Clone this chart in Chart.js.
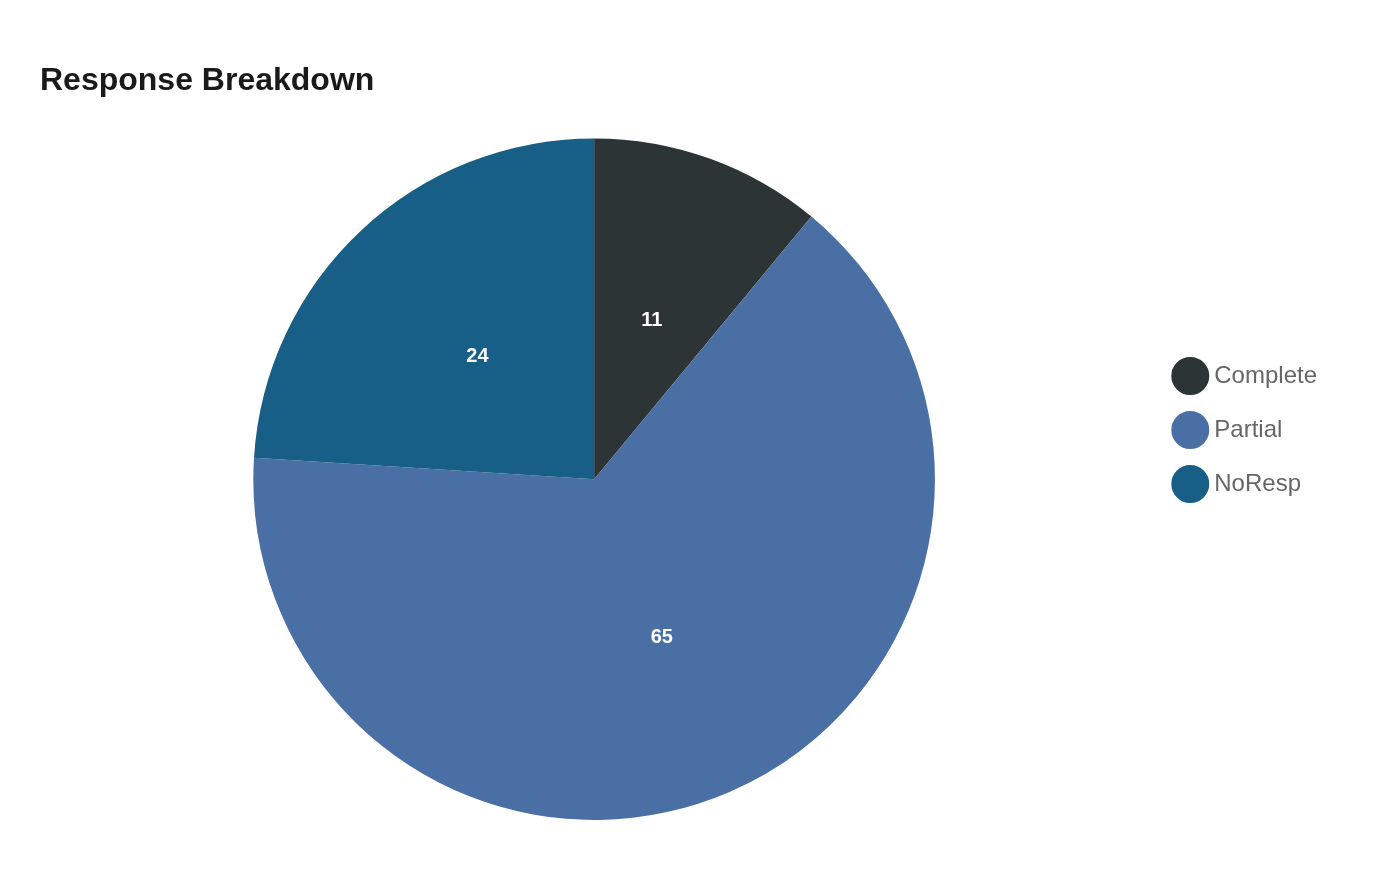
<!DOCTYPE html>
<html>
<head>
<meta charset="utf-8">
<title>Response Breakdown</title>
<script src="https://cdn.jsdelivr.net/npm/chart.js@4"></script>
<style>
    html, body { margin: 0; padding: 0; background: #fff; }
    #wrap { width: 1400px; height: 880px; position: relative; }
</style>
</head>
<body>
<div id="wrap"><canvas id="pieChart"></canvas></div>
<script>
const categories = ['Complete', 'Partial', 'NoResp'];
const values = [11, 65, 24];
const colors = ['#2d3436', '#4a6fa5', '#185f87'];

// white value labels in the middle of each slice
const sliceLabels = {
    id: 'sliceLabels',
    afterDatasetsDraw(chart) {
        const ctx = chart.ctx;
        const meta = chart.getDatasetMeta(0);
        ctx.save();
        ctx.fillStyle = '#ffffff';
        ctx.font = "bold 20px 'Liberation Sans', Arial, sans-serif";
        ctx.textAlign = 'center';
        ctx.textBaseline = 'middle';
        meta.data.forEach((arc, i) => {
            const pos = arc.tooltipPosition();
            ctx.fillText(String(values[i]), pos.x, pos.y + 2);
        });
        ctx.restore();
    },
};

const ctx = document.getElementById('pieChart');

new Chart(ctx.getContext('2d'), {
    type: 'pie',
    data: {
        labels: categories,
        datasets: [
            {
                data: values,
                backgroundColor: colors,
                borderWidth: 0,
            },
        ],
    },
    options: {
        responsive: true,
        maintainAspectRatio: false,
        animation: false,
        layout: {
            padding: { top: 40, bottom: 60, left: 40, right: 73 },
        },
        plugins: {
            title: {
                display: true,
                text: 'Response Breakdown',
                align: 'start',
                color: '#1a1a1a',
                font: { size: 32, weight: 'bold', family: "'Liberation Sans', Arial, sans-serif" },
                padding: { top: 22, bottom: 38 },
            },
            legend: {
                position: 'right',
                labels: {
                    usePointStyle: true,
                    pointStyle: 'circle',
                    padding: 30,
                    color: '#666666',
                    font: { size: 24, family: "'Liberation Sans', Arial, sans-serif" },
                    generateLabels(chart) {
                        const items = Chart.overrides.pie.plugins.legend.labels.generateLabels(chart);
                        items.forEach((item) => {
                            item.strokeStyle = item.fillStyle;
                            item.lineWidth = 4;
                        });
                        return items;
                    },
                },
            },
            tooltip: { enabled: false },
        },
    },
    plugins: [sliceLabels],
});
</script>
</body>
</html>
